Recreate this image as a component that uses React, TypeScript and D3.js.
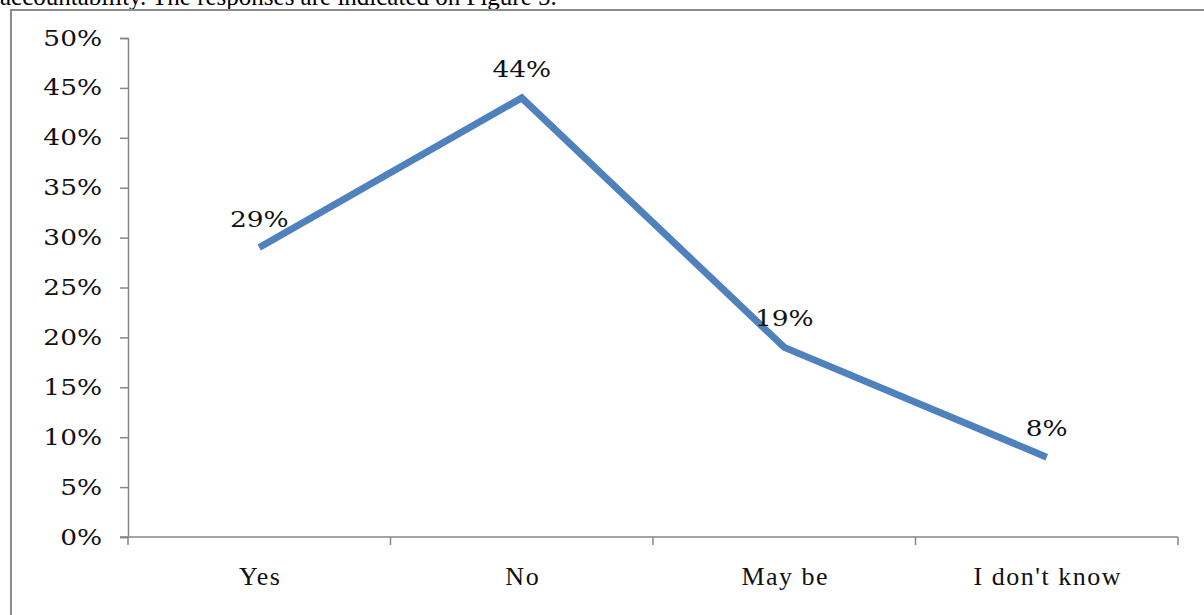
import React, { useRef, useEffect } from "react";
import * as d3 from "d3";

const categories = ["Yes", "No", "May be", "I don't know"];
const values = [29, 44, 19, 8];
const yTicks = [0, 5, 10, 15, 20, 25, 30, 35, 40, 45, 50];

const W = 1204;
const H = 615;
const STRETCH = 1.2; // the source figure's numbers are horizontally stretched

const App: React.FC = () => {
  const ref = useRef<SVGSVGElement | null>(null);

  useEffect(() => {
    const svg = d3.select(ref.current);
    svg.selectAll("*").remove();

    // cut-off sentence from the page above the figure
    svg
      .append("text")
      .attr("x", 0)
      .attr("y", 5)
      .style("font-family", "Liberation Serif")
      .style("font-size", "25px")
      .text("accountability. The responses are indicated on Figure 5.");

    // figure frame
    svg
      .append("rect")
      .attr("x", 11)
      .attr("y", 10)
      .attr("width", 1210)
      .attr("height", 630)
      .attr("fill", "none")
      .attr("stroke", "#8c8c8c")
      .attr("stroke-width", 2);

    const left = 128;
    const right = 1178;
    const top = 38;
    const bottom = 537;

    const x = d3.scaleBand<string>().domain(categories).range([left, right]);
    const y = d3.scaleLinear().domain([0, 50]).range([bottom, top]);

    // y axis
    const yAxis = svg
      .append("g")
      .attr("transform", `translate(${left},0)`)
      .call(
        d3
          .axisLeft(y)
          .tickValues(yTicks)
          .tickSize(8)
          .tickFormat((d) => `${d}%`)
      );
    yAxis.select(".domain").attr("stroke", "#868686").attr("stroke-width", 1.5);
    yAxis.selectAll(".tick line").attr("stroke", "#868686").attr("stroke-width", 1.5);
    yAxis
      .selectAll(".tick text")
      .attr("x", -26 / STRETCH)
      .attr("transform", `scale(${STRETCH},1)`)
      .attr("fill", "#111")
      .style("font-family", "DejaVu Serif")
      .style("font-size", "22px");

    // x axis with ticks at category boundaries
    const xg = svg.append("g").attr("transform", `translate(0,${bottom})`);
    xg.append("line")
      .attr("x1", left - 8)
      .attr("x2", right)
      .attr("stroke", "#868686")
      .attr("stroke-width", 1.5);
    const bounds = categories.map((c) => x(c) as number).concat([right]);
    xg.selectAll("line.tk")
      .data(bounds)
      .enter()
      .append("line")
      .attr("class", "tk")
      .attr("x1", (d) => d)
      .attr("x2", (d) => d)
      .attr("y1", 0)
      .attr("y2", 8)
      .attr("stroke", "#868686")
      .attr("stroke-width", 1.5);
    xg.selectAll("text")
      .data(categories)
      .enter()
      .append("text")
      .attr("x", (d) => (x(d) as number) + x.bandwidth() / 2)
      .attr("dx", 1)
      .attr("y", 48)
      .attr("text-anchor", "middle")
      .attr("fill", "#111")
      .style("font-family", "Liberation Serif")
      .style("font-size", "26px")
      .style("letter-spacing", "1.5px")
      .text((d) => d);

    const pts = categories.map((c, i) => ({
      cx: (x(c) as number) + x.bandwidth() / 2,
      v: values[i],
    }));

    const line = d3
      .line<{ cx: number; v: number }>()
      .x((d) => d.cx)
      .y((d) => y(d.v));

    svg
      .append("path")
      .datum(pts)
      .attr("d", line)
      .attr("fill", "none")
      .attr("stroke", "#4f81bd")
      .attr("stroke-width", 7)
      .attr("stroke-linejoin", "miter");

    svg
      .selectAll("text.lbl")
      .data(pts)
      .enter()
      .append("text")
      .attr("class", "lbl")
      .attr(
        "transform",
        (d) => `translate(${d.cx},${y(d.v) - 21}) scale(${STRETCH},1)`
      )
      .attr("text-anchor", "middle")
      .attr("fill", "#111")
      .style("font-family", "DejaVu Serif")
      .style("font-size", "22px")
      .text((d) => `${d.v}%`);
  }, []);

  return (
    <svg
      ref={ref}
      width={W}
      height={H}
      style={{ position: "absolute", left: 0, top: 0, background: "#fff" }}
    />
  );
};

export default App;
